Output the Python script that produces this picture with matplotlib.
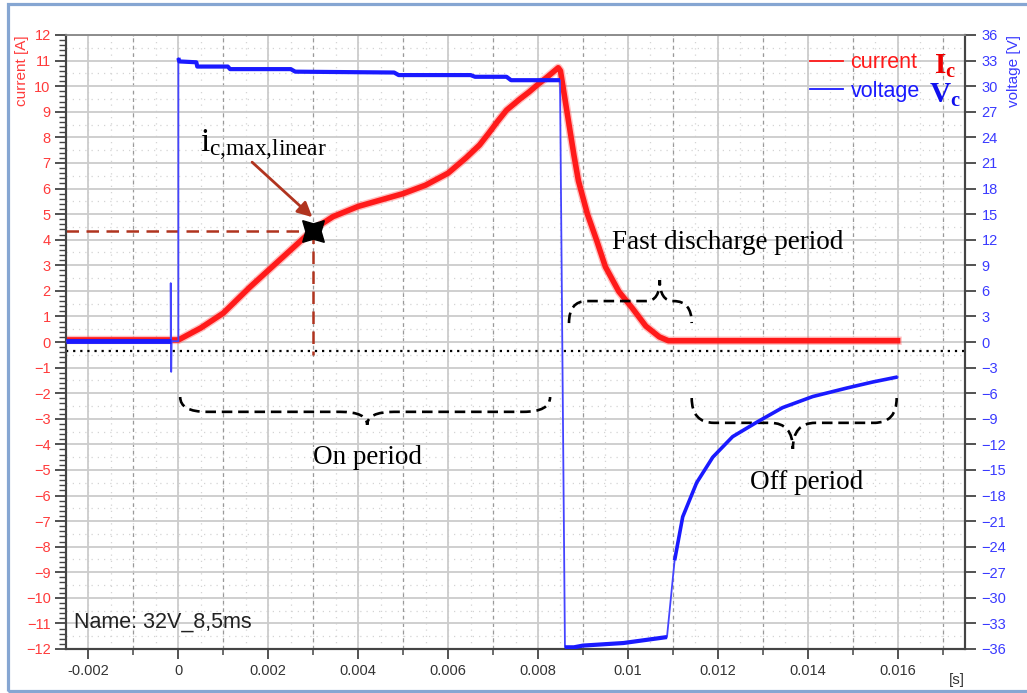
import numpy as np
import matplotlib
matplotlib.use('Agg')
import matplotlib.pyplot as plt
from matplotlib.path import Path
from matplotlib.patches import PathPatch, Rectangle
from matplotlib.ticker import MultipleLocator
from matplotlib.lines import Line2D

plt.rcParams['font.family'] = ['Liberation Sans', 'DejaVu Sans']
plt.rcParams['mathtext.fontset'] = 'custom'
plt.rcParams['mathtext.rm'] = 'Liberation Serif'
plt.rcParams['mathtext.bf'] = 'Liberation Serif:bold'
plt.rcParams['mathtext.it'] = 'Liberation Serif:italic'

# ---------------- data ----------------
# coil current [A]
t_current = [-0.0025, 0.0, 0.0005, 0.001, 0.0016, 0.002, 0.0025, 0.003, 0.00344, 0.004,
             0.0045, 0.005, 0.0055, 0.006, 0.0064, 0.0067, 0.0069, 0.0071, 0.0073,
             0.0076, 0.0078, 0.008, 0.0082, 0.00845, 0.0085, 0.0086, 0.0087, 0.0088,
             0.0089, 0.0091, 0.0093, 0.0095, 0.0098, 0.0101, 0.0104, 0.0107, 0.0109,
             0.016]
i_current = [0.08, 0.08, 0.55, 1.13, 2.16, 2.8, 3.6, 4.4, 4.9, 5.3,
             5.55, 5.8, 6.13, 6.6, 7.2, 7.7, 8.15, 8.62, 9.06,
             9.5, 9.77, 10.07, 10.35, 10.72, 10.6, 9.5, 8.4, 7.3,
             6.3, 5.0, 4.0, 2.94, 1.97, 1.32, 0.62, 0.2, 0.05,
             0.05]

# coil voltage [V], piecewise
t_v_pre = [-0.0025, -0.00017]
v_v_pre = [0.1, 0.1]
t_v_spike = [-0.00017, -0.00017, -0.00016, -0.00015, 0.0]
v_v_spike = [0.1, 6.9, -3.5, 0.1, 0.1]
t_v_on = [0.0, 0.00002, 0.0004, 0.00042, 0.0011, 0.00115, 0.0025, 0.0026, 0.0048,
          0.0049, 0.0065, 0.0066, 0.0073, 0.0074, 0.00849]
v_v_on = [33.3, 32.9, 32.8, 32.3, 32.3, 32.0, 32.0, 31.7, 31.6,
          31.3, 31.3, 31.1, 31.1, 30.7, 30.7]
t_v_low = [0.0086, 0.0088, 0.0090, 0.0099, 0.01087]
v_v_low = [-35.8, -35.8, -35.6, -35.3, -34.6]
t_v_rec = [0.01104, 0.01122, 0.01153, 0.01189, 0.01233, 0.01287, 0.01344,
           0.01411, 0.01487, 0.01544, 0.016]
v_v_rec = [-25.6, -20.5, -16.5, -13.5, -11.1, -9.4, -7.7, -6.4, -5.4, -4.7, -4.1]

# operating point marker
t_mark = 0.003
i_mark = 4.35
zero_offset = -0.35

x_ticks = [-0.002, 0, 0.002, 0.004, 0.006, 0.008, 0.01, 0.012, 0.014, 0.016]
x_tick_labels = ['-0.002', '0', '0.002', '0.004', '0.006', '0.008', '0.01', '0.012', '0.014', '0.016']

RED = '#ff1a1a'
BLUE = '#1a1aff'
TICK_RED = '#ff3b3b'
TICK_BLUE = '#3a3aff'
BROWN = '#b0341f'

# ---------------- figure ----------------
fig = plt.figure(figsize=(10.27, 6.93), dpi=100)
ax = fig.add_axes([66/1027, 1-649/693, (965-66)/1027, (649-35)/693])
ax2 = ax.twinx()

ax.set_xlim(-0.0025, 0.0175)
ax.set_ylim(-12, 12)
ax2.set_ylim(-36, 36)

# grid texture (faint dotted)
for xv in np.arange(-0.0025, 0.0176, 0.0005):
    ax.axvline(xv, color='#d4d4d4', lw=0.9, dashes=(1, 4), zorder=0)
for yv in np.arange(-11.5, 12, 1.0):
    ax.axhline(yv, color='#d4d4d4', lw=0.9, dashes=(1, 4), zorder=0)

ax.xaxis.set_major_locator(MultipleLocator(0.002))
ax.xaxis.set_minor_locator(MultipleLocator(0.001))
ax.set_xticks(x_ticks)
ax.set_xticklabels(x_tick_labels)
ax.yaxis.set_major_locator(MultipleLocator(1))
ax.yaxis.set_minor_locator(MultipleLocator(0.2))
ax2.yaxis.set_major_locator(MultipleLocator(3))

ax.grid(True, which='major', axis='both', color='#cccccc', lw=1.3, zorder=0)
ax.xaxis.grid(True, which='minor', color='#9a9a9a', lw=0.9, linestyle=(0, (3, 3)))
ax.set_axisbelow(True)

# ---------------- traces ----------------
ax.plot(t_current, i_current, color='#ff6060', lw=6.0, alpha=0.4, solid_joinstyle='round', zorder=3)
ax.plot(t_current, i_current, color=RED, lw=4.0, solid_joinstyle='round', zorder=3)

t_v_all = t_v_pre + t_v_spike + t_v_on + t_v_low + t_v_rec
v_v_all = v_v_pre + v_v_spike + v_v_on + v_v_low + v_v_rec
ax2.plot(t_v_all, v_v_all, color='#4444ff', lw=1.3, zorder=4)
for tt, vv, lw in [(t_v_pre, v_v_pre, 3.5), (t_v_on, v_v_on, 3.0),
                   (t_v_low, v_v_low, 3.0), (t_v_rec, v_v_rec, 2.6)]:
    ax2.plot(tt, vv, color=BLUE, lw=lw, solid_capstyle='butt', zorder=4)

# zero-offset dotted reference line
ax.axhline(zero_offset, color='black', lw=1.6, linestyle=(0, (1, 2.2)), zorder=5)

# operating point guide lines and marker
ax.plot([ax.get_xlim()[0], t_mark], [i_mark, i_mark], color=BROWN, lw=1.8,
        linestyle=(0, (5, 3)), zorder=5)
ax.plot([t_mark, t_mark], [i_mark, -0.5], color=BROWN, lw=1.8,
        linestyle=(0, (5, 3)), zorder=5)
ax.plot([t_mark], [i_mark], marker=(4, 1, 45), markersize=22, color='black', zorder=7)

ax.annotate('', xy=(0.00298, 4.88), xytext=(0.00164, 7.03),
            arrowprops=dict(arrowstyle='-|>', color=BROWN, lw=2.0, mutation_scale=22,
                            shrinkA=0, shrinkB=0), zorder=7)
ax.text(0.00049, 7.4, r'$\mathrm{i}_{\mathrm{c{,}max{,}linear}}$', fontsize=24,
        ha='left', va='baseline', color='black', zorder=8)


# ---------------- braces ----------------
def brace(x0, x1, xt, y_end, y_line, y_tip, dx_end, dx_tip):
    verts = [(x0, y_end), (x0, y_line), (x0 + dx_end, y_line),
             (xt - dx_tip, y_line), (xt, y_line), (xt, y_tip),
             (xt, y_line), (xt + dx_tip, y_line),
             (x1 - dx_end, y_line), (x1, y_line), (x1, y_end)]
    codes = [Path.MOVETO, Path.CURVE3, Path.CURVE3, Path.LINETO, Path.CURVE3, Path.CURVE3,
             Path.CURVE3, Path.CURVE3, Path.LINETO, Path.CURVE3, Path.CURVE3]
    ax.add_patch(PathPatch(Path(verts, codes), fill=False, edgecolor='black', lw=1.9,
                           linestyle=(0, (4, 2.2)), zorder=6))


brace(0.00004, 0.00827, 0.0042, -2.15, -2.73, -3.24, 0.0006, 0.0006)
brace(0.00869, 0.01142, 0.01071, 0.74, 1.6, 2.42, 0.0004, 0.0003)
brace(0.01142, 0.01598, 0.01367, -2.19, -3.16, -4.18, 0.0005, 0.0005)

ax.text(0.0042, -4.53, 'On period', fontsize=19.5, family='Liberation Serif',
        ha='center', va='center', zorder=8)
ax.text(0.01222, 3.9, 'Fast discharge period', fontsize=19.5, family='Liberation Serif',
        ha='center', va='center', zorder=8)
ax.text(0.01398, -5.5, 'Off period', fontsize=19.5, family='Liberation Serif',
        ha='center', va='center', zorder=8)

ax.text(0.009, 0.044, 'Name: 32V_8,5ms', transform=ax.transAxes, fontsize=15.5,
        color='#222222', ha='left', va='center', zorder=8)

# ---------------- legend ----------------
handles = [Line2D([], [], color=RED, lw=1.3), Line2D([], [], color=BLUE, lw=1.3)]
leg = ax.legend(handles, ['current', 'voltage'], loc='upper left',
                bbox_to_anchor=(0.8276, 0.972), frameon=False, fontsize=15.5,
                handlelength=1.55, handletextpad=0.33, labelspacing=0.36,
                borderpad=0, borderaxespad=0)
leg.get_texts()[0].set_color(RED)
leg.get_texts()[1].set_color(BLUE)
leg.set_zorder(9)
ax.text(0.9655, 0.950, r'$\mathbf{I}_\mathbf{c}$', transform=ax.transAxes, fontsize=21,
        color='#ee0000', ha='left', va='center', zorder=9)
ax.text(0.960, 0.903, r'$\mathbf{V}_\mathbf{c}$', transform=ax.transAxes, fontsize=21,
        color='#1010ee', ha='left', va='center', zorder=9)

# ---------------- axes styling ----------------
for side in ['left', 'bottom', 'right']:
    ax.spines[side].set_color('#444444')
    ax.spines[side].set_linewidth(1.5)
    ax2.spines[side].set_color('#444444')
    ax2.spines[side].set_linewidth(1.5)
ax.spines['top'].set_color('#8c8c8c')
ax2.spines['top'].set_color('#8c8c8c')
ax.spines['top'].set_linewidth(1.2)
ax2.spines['top'].set_linewidth(1.2)

ax.tick_params(axis='y', which='major', direction='out', length=8, width=1.3,
               color='#444444', labelcolor=TICK_RED, labelsize=10.5, pad=3)
ax.tick_params(axis='y', which='minor', direction='out', length=5, width=1.0,
               color='#444444')
ax.tick_params(axis='x', which='major', direction='out', length=7, width=1.3,
               color='#444444', labelcolor='#333333', labelsize=10.5, pad=4)
ax.tick_params(axis='x', which='minor', direction='out', length=4.5, width=1.1,
               color='#444444')
ax2.tick_params(axis='y', which='major', direction='out', length=8, width=1.3,
                color='#444444', labelcolor=TICK_BLUE, labelsize=10.5, pad=4)

ax.set_ylabel('current [A]', color=TICK_RED, fontsize=11, loc='top')
ax.yaxis.set_label_coords(-0.041, 1.0)
ax2.set_ylabel('voltage [V]', color=TICK_BLUE, fontsize=11, loc='top', rotation=90)
ax2.yaxis.set_label_coords(1.0465, 1.0)
ax.set_xlabel('[s]', fontsize=11, color='#333333')
ax.xaxis.set_label_coords(0.991, -0.05)
ax.xaxis.label.set_va('center')

# window border
fig.patches.append(Rectangle((8/1027, 2/693), 1.1, 687/693, fill=False,
                             edgecolor='#86a6d2', lw=2.3, transform=fig.transFigure,
                             clip_on=False))

fig.savefig('out.png', dpi=100)
